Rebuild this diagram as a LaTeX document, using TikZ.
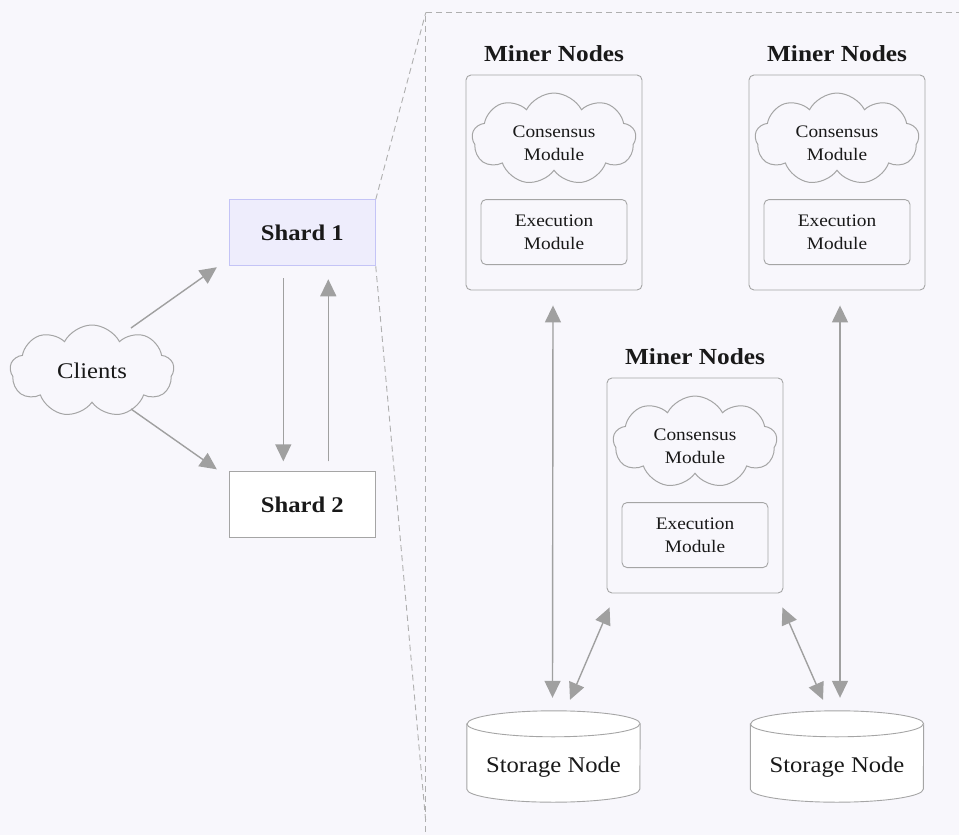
\documentclass[tikz,border=0pt]{standalone}
\usepackage{fontspec}
\setmainfont{Liberation Serif}[FakeStretch=1.1]
\usetikzlibrary{shapes.symbols,arrows.meta,calc}

\definecolor{bgcol}{RGB}{248,247,252}
\definecolor{edgecol}{RGB}{165,165,165}
\definecolor{arrcol}{RGB}{160,160,160}
\definecolor{dashcol}{RGB}{175,175,175}
\definecolor{shardfill}{RGB}{238,237,252}
\definecolor{sharddraw}{RGB}{196,196,246}
\definecolor{txtcol}{RGB}{25,25,25}

\tikzset{
  x=1pt, y=1pt,
  every node/.style={text=txtcol},
  bigtext/.style={font=\fontsize{22.4}{26}\selectfont},
  smalltext/.style={font=\fontsize{17.6}{23}\selectfont},
  cloudnode/.style={cloud, cloud puffs=9, cloud puff arc=125, aspect=1.78,
    draw=edgecol, line width=1pt, fill=bgcol, inner sep=0pt,
    minimum width=164pt, minimum height=92pt, align=center},
  shardbox/.style={rectangle, draw=edgecol, line width=0.9pt, fill=white,
    minimum width=146pt, minimum height=66pt,
    font=\fontsize{22.4}{26}\selectfont\bfseries},
  minerbox/.style={rectangle, rounded corners=5pt, draw=edgecol, line width=0.9pt,
    fill=bgcol, minimum width=176pt, minimum height=215pt},
  minertitle/.style={font=\fontsize{23}{26}\selectfont\bfseries},
  execbox/.style={rectangle, rounded corners=5pt, draw=edgecol, line width=0.9pt,
    fill=bgcol, minimum width=146pt, minimum height=65pt, smalltext, align=center},
  storebox/.style={rectangle, draw=none, minimum width=173pt, minimum height=91pt},
  arr/.style={draw=arrcol, line width=1.4pt,
    -{Triangle[length=17pt,width=16pt]}, fill=arrcol},
  dblarr/.style={draw=arrcol, line width=1.4pt,
    {Triangle[length=17pt,width=16pt]}-{Triangle[length=17pt,width=16pt]}, fill=arrcol},
  zoomline/.style={draw=dashcol, line width=0.9pt, dash pattern=on 6pt off 4pt},
}

% a storage cylinder drawn around a named rectangle node
\newcommand{\storagecyl}[1]{%
  \path[draw=edgecol, line width=0.9pt, fill=white]
    ([yshift=-13pt]#1.north west) -- ([yshift=13pt]#1.south west)
    arc[start angle=180, end angle=360, x radius=86.5pt, y radius=13pt]
    -- ([yshift=-13pt]#1.north east)
    arc[start angle=0, end angle=180, x radius=86.5pt, y radius=13pt] -- cycle;
  \draw[edgecol, line width=0.9pt] ([yshift=-13pt]#1.north west)
    arc[start angle=180, end angle=360, x radius=86.5pt, y radius=13pt];
}

\begin{document}
\begin{tikzpicture}
\fill[bgcol] (0,0) rectangle (959,-835);
\useasboundingbox (0,0) rectangle (959,-835);

% left side: clients and shards
\node[cloudnode, bigtext] (cl) at (92,-371) {Clients};
\node[shardbox, fill=shardfill, draw=sharddraw] (s1) at (302.3,-232.8) {Shard 1};
\node[shardbox] (s2) at (302.3,-504.8) {Shard 2};

\draw[arr] ($(cl.center)+(39,43)$) -- ($(s1.south west)+(-12,-1)$);
\draw[arr] ($(cl.center)+(39,-38)$) -- ($(s2.north west)+(-12,2)$);
\draw[arr] ($(s1.south)+(-19,-12)$) -- ($(s2.north)+(-19,10)$);
\draw[arr] ($(s2.north)+(26,10)$) -- ($(s1.south)+(26,-13)$);

% zoomed-in frame of shard 1
\coordinate (zt) at (425.8,-12.5);
\coordinate (zb) at (425.8,-822);
\draw[zoomline] (s1.north east) -- (zt);
\draw[zoomline] (s1.south east) -- (zb);
\draw[zoomline] (962,-12.5) -- (zt) -- (425.8,-838);

% miner node groups
\node[minerbox] (m1) at (554,-182.5) {};
\node[minerbox] (m2) at (837,-182.5) {};
\node[minerbox] (m3) at (695,-485.5) {};

\foreach \m in {m1,m2,m3}{
  \node[minertitle] at ([yshift=21pt]\m.north) {Miner Nodes};
  \node[cloudnode] (\m c) at ([yshift=-64.5pt]\m.north) {};
  \node[smalltext, align=center] at ([yshift=-4pt]\m c.center) {Consensus\\Module};
  \node[execbox] (\m e) at ([yshift=-157.5pt]\m.north) {Execution\\Module};
}

% storage nodes
\node[storebox] (st1) at (553.5,-756.5) {};
\node[storebox] (st2) at (837,-756.5) {};
\storagecyl{st1}
\storagecyl{st2}
\node[bigtext] at ([yshift=-11pt]st1.center) {Storage Node};
\node[bigtext] at ([yshift=-11pt]st2.center) {Storage Node};

% links between miners and storage
\draw[dblarr] ($(m1.south)+(-1,-15)$) -- ($(st1.north)+(-1,13)$);
\draw[dblarr] ($(m2.south)+(3,-15)$) -- ($(st2.north)+(3,13)$);
\draw[dblarr] ($(m3.south west)+(3,-14)$) -- ($(st1.north)+(16.5,11)$);
\draw[dblarr] ($(m3.south east)+(-1,-14)$) -- ($(st2.north)+(-14,11)$);
\end{tikzpicture}
\end{document}
